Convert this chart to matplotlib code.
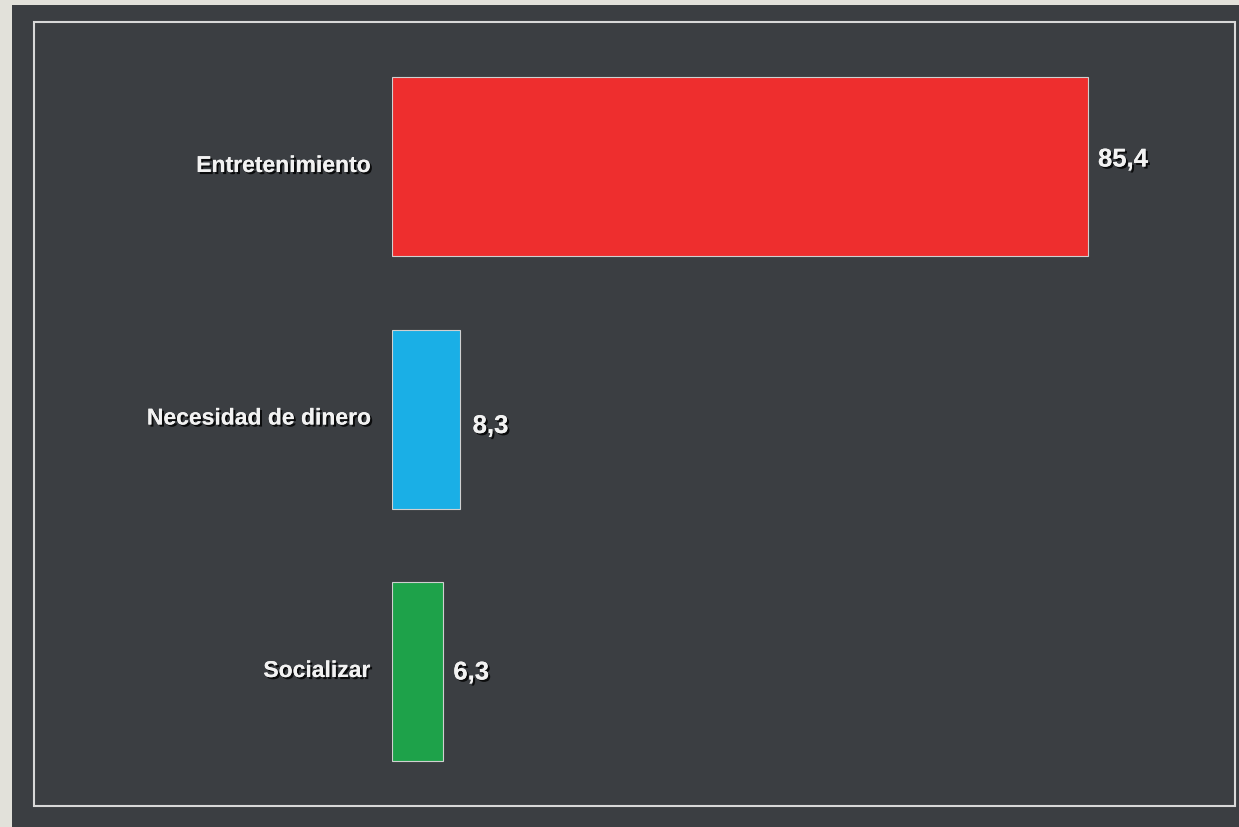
import matplotlib
matplotlib.use("Agg")
import matplotlib.pyplot as plt
import matplotlib.patheffects as pe
from matplotlib.patches import Rectangle

categories = ["Entretenimiento", "Necesidad de dinero", "Socializar"]
values = [85.4, 8.3, 6.3]
value_labels = ["85,4", "8,3", "6,3"]
colors = ["#ee2e2e", "#1aafe6", "#1ea24a"]

W, H = 1239, 827
fig = plt.figure(figsize=(W / 100, H / 100), dpi=100)
fig.patch.set_facecolor("#e2e1da")

# dark panel
fig.patches.append(Rectangle((12 / W, 0), 1 - 12 / W, 1 - 5 / H, transform=fig.transFigure,
                             facecolor="#3b3e42", edgecolor="none", zorder=-2))
# white inner frame
fig.patches.append(Rectangle((34 / W, 1 - 806 / H), (1235 - 34) / W, (806 - 22) / H,
                             transform=fig.transFigure, facecolor="none",
                             edgecolor="#d8d8d8", linewidth=1.5, zorder=-1))

left, right, top, bottom = 392, 1234, 22, 806
ax = fig.add_axes([left / W, 1 - bottom / H, (right - left) / W, (bottom - top) / H])
ax.set_facecolor("none")
ax.set_zorder(1)
pxu = 696 / 85.4
ax.set_xlim(0, (right - left) / pxu)
spacing = 252.5
ax.set_ylim(1 + (bottom - 419) / spacing, 1 - (419 - top) / spacing)
for s in ax.spines.values():
    s.set_visible(False)
ax.set_xticks([])
ax.set_yticks([])

ypos = list(range(len(categories)))
ax.barh(ypos, values, height=179 / spacing, color=colors, edgecolor="#d0d0d0", linewidth=0.8)

shadow = [pe.withSimplePatchShadow(offset=(1.5, -1.5), shadow_rgbFace="black", alpha=0.8), pe.Normal()]
label_offsets = [(10, 7), (13, -7), (10, -1)]
for y, v, lab, off in zip(ypos, values, value_labels, label_offsets):
    ax.annotate(lab, (v, y), xytext=off, textcoords="offset pixels",
                ha="left", va="center", color="#f2f2f2", fontsize=18.5, fontweight="bold",
                family="Liberation Sans", path_effects=shadow, annotation_clip=False)
for y, c in zip(ypos, categories):
    ax.annotate(c, (0, y), xytext=(-22, 1), textcoords="offset pixels",
                ha="right", va="center", color="#f2f2f2", fontsize=16.5, fontweight="bold",
                family="Liberation Sans", path_effects=shadow, annotation_clip=False)

fig.savefig("out.png", dpi=100, facecolor=fig.get_facecolor())
